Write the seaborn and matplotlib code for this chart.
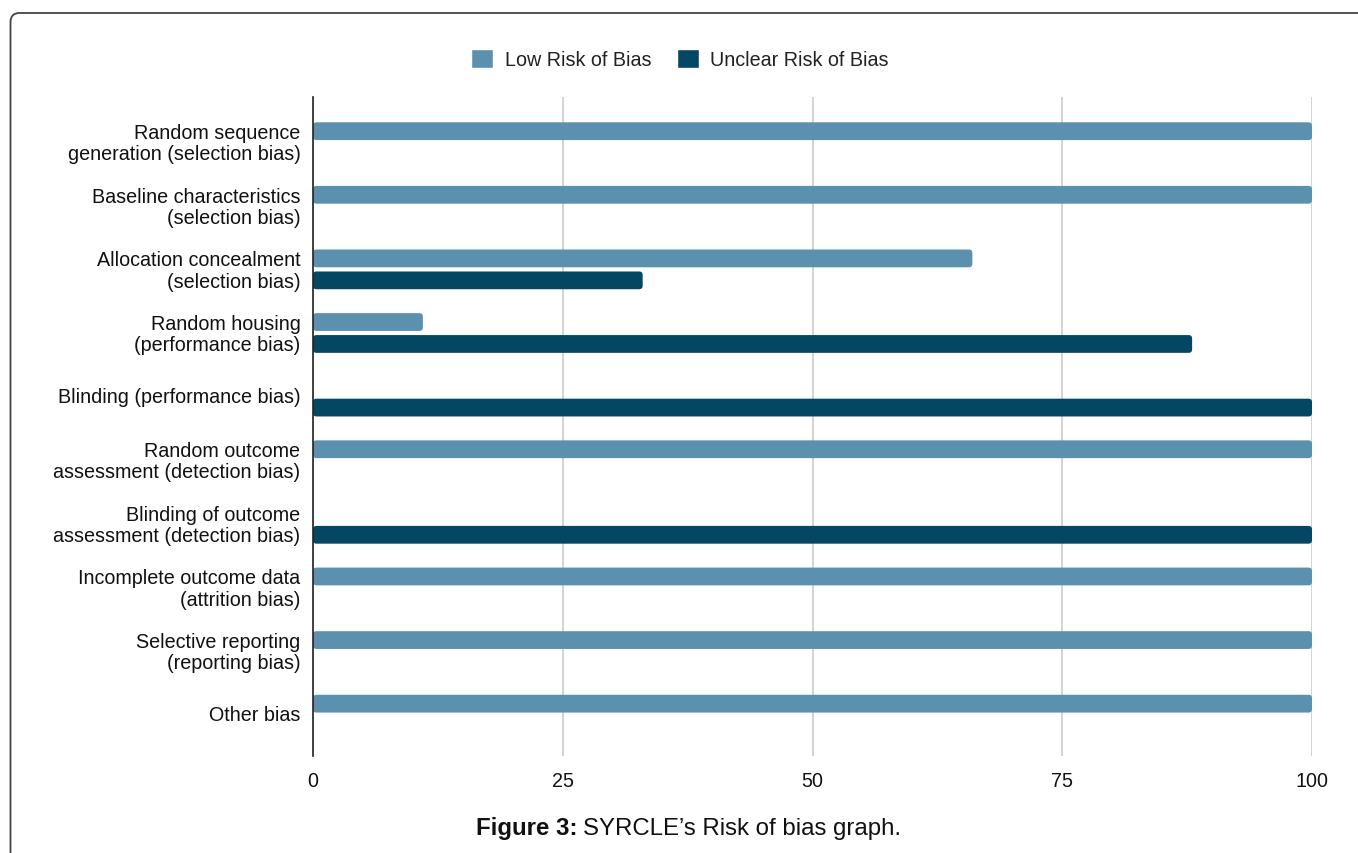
import matplotlib
matplotlib.use("Agg")
import matplotlib.pyplot as plt
import matplotlib.transforms as mtransforms
from matplotlib.patches import FancyBboxPatch
import seaborn as sns
import pandas as pd

categories = [
    "Random sequence\ngeneration (selection bias)",
    "Baseline characteristics\n(selection bias)",
    "Allocation concealment\n(selection bias)",
    "Random housing\n(performance bias)",
    "Blinding (performance bias)",
    "Random outcome\nassessment (detection bias)",
    "Blinding of outcome\nassessment (detection bias)",
    "Incomplete outcome data\n(attrition bias)",
    "Selective reporting\n(reporting bias)",
    "Other bias",
]
low_risk = [100, 100, 66, 11, 0, 100, 0, 100, 100, 100]
unclear_risk = [0, 0, 33, 88, 100, 0, 100, 0, 0, 0]
series_names = ["Low Risk of Bias", "Unclear Risk of Bias"]
colors = ["#5B91AF", "#044762"]
x_ticks = [0, 25, 50, 75, 100]

rows = []
for c, lo, un in zip(categories, low_risk, unclear_risk):
    rows.append({"Domain": c, "Series": series_names[0], "Value": lo})
    rows.append({"Domain": c, "Series": series_names[1], "Value": un})
df = pd.DataFrame(rows)

sns.set_theme(style="white")
plt.rcParams["font.family"] = ["Liberation Sans", "DejaVu Sans"]

W, H = 1358, 854
fig = plt.figure(figsize=(W / 100, H / 100), dpi=100)
ax = fig.add_axes([313 / W, 1 - 757 / H, (1312 - 313) / W, (757 - 98) / H])

sns.barplot(data=df, y="Domain", x="Value", hue="Series", order=categories,
            hue_order=series_names, palette=colors, orient="h",
            width=0.69, gap=0.19, ax=ax, saturation=1, legend=True)

ylo, yhi = 9.65, -0.71
ax.set_xlim(0, 100)
ax.set_ylim(ylo, yhi)
ax.set_xticks(x_ticks)
ax.set_xticklabels([str(t) for t in x_ticks])
ax.set_xlabel("")
ax.set_ylabel("")
ax.grid(axis="x", color="#cccccc", linewidth=1.2)
ax.set_axisbelow(True)
for s in ["top", "right", "bottom"]:
    ax.spines[s].set_visible(False)
ax.spines["left"].set_color("#222222")
ax.spines["left"].set_linewidth(1.2)
ax.tick_params(axis="both", length=0, labelsize=14.2, colors="#111111")
ax.tick_params(axis="x", pad=11)
ax.tick_params(axis="y", pad=9)
shift = mtransforms.ScaledTranslation(0, 2 / 100, fig.dpi_scale_trans)
for lab in ax.get_yticklabels():
    lab.set_linespacing(1.15)
    lab.set_transform(lab.get_transform() + shift)

# legend
handles, labels = ax.get_legend_handles_labels()
ax.get_legend().remove()
fig.legend(handles, labels, loc="center", bbox_to_anchor=(680 / W, 1 - 60 / H),
           ncol=2, frameon=False, fontsize=14.2, handlelength=1.1, handleheight=1.1,
           columnspacing=1.3, handletextpad=0.6, labelcolor="#222222")

# rounded bar ends (derived from seaborn's bar geometry)
x_px = (1312 - 313) / 100.0
y_px = (757 - 98) / (ylo - yhi)
aspect = (1 / y_px) / (1 / x_px)
for p in list(ax.patches):
    w = p.get_width()
    if w <= 0:
        p.set_visible(False)
        continue
    x0, y0 = p.get_xy()
    h = p.get_height()
    fb = FancyBboxPatch((x0, y0), w, h,
                        boxstyle="round,pad=0,rounding_size=0.35",
                        mutation_aspect=aspect,
                        facecolor=p.get_facecolor(), edgecolor="none",
                        zorder=p.get_zorder())
    p.set_visible(False)
    ax.add_patch(fb)

# caption
fig.text(577 / W, 1 - 829 / H, "Figure 3:", ha="right", va="center",
         fontsize=17.3, fontweight="bold", color="#111111")
fig.text(583 / W, 1 - 829 / H, "SYRCLE\u2019s Risk of bias graph.", ha="left",
         va="center", fontsize=17.3, color="#111111")

# outer rounded border
border = FancyBboxPatch((10.5, -60), 1500, 840 + 60,
                        boxstyle="round,pad=0,rounding_size=9",
                        transform=None, facecolor="none",
                        edgecolor="#444444", linewidth=1.3, clip_on=False)
fig.patches.append(border)

fig.savefig("out.png", dpi=100)
